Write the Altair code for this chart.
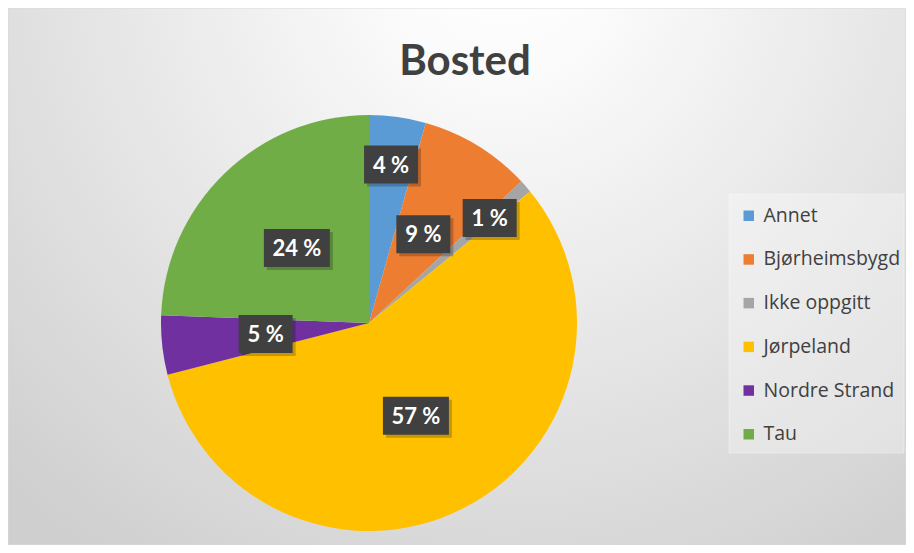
import altair as alt
import pandas as pd

# ---- data ----
CATEGORIES = ["Annet", "Bjørheimsbygd", "Ikke oppgitt", "Jørpeland", "Nordre Strand", "Tau"]
SHARES = [4.4, 8.7, 1.0, 56.9, 4.6, 24.4]
LABELS = ["4 %", "9 %", "1 %", "57 %", "5 %", "24 %"]
COLORS = ["#5B9BD5", "#ED7D31", "#A5A5A5", "#FFC000", "#7030A0", "#70AD47"]
TITLE = ["Bosted"]
OUTER_LABELS = ["Annet", "Ikke oppgitt"]

# ---- layout (pixels inside the chart) ----
W, H = 898, 537
CX, CY, R = 361, 315, 208

df = pd.DataFrame({
    "cat": CATEGORIES,
    "share": SHARES,
    "label": LABELS,
    "idx": list(range(len(CATEGORIES))),
})

xs = alt.Scale(domain=[0, W], nice=False, zero=False)
ys = alt.Scale(domain=[0, H], nice=False, zero=False, reverse=True)

one = pd.DataFrame({"t": TITLE})

bg = alt.Chart(one).mark_rect(
    color=alt.RadialGradient(
        gradient="radial",
        stops=[
            alt.GradientStop(color="#ffffff", offset=0),
            alt.GradientStop(color="#fbfbfb", offset=0.15),
            alt.GradientStop(color="#cfcfcf", offset=1),
        ],
        x1=0.55, y1=0.15, x2=0.55, y2=0.15, r1=0, r2=0.8,
    ),
    stroke="#d9d9d9", strokeWidth=1,
).encode(x=alt.value(0), x2=alt.value(W), y=alt.value(0), y2=alt.value(H))

legend_box = alt.Chart(one).mark_rect(
    fill="#ffffff", fillOpacity=0.3, stroke="#ffffff", strokeOpacity=0.35
).encode(x=alt.value(721), x2=alt.value(896), y=alt.value(186), y2=alt.value(445))

title = alt.Chart(one).mark_text(
    font="Lato", fontSize=42, fontWeight="bold", color="#404040",
    align="center", baseline="alphabetic",
).encode(x=alt.value(457), y=alt.value(67), text="t:N")

pie = alt.Chart(df).mark_arc(outerRadius=R).encode(
    theta=alt.Theta("share:Q", stack=True),
    color=alt.Color(
        "cat:N",
        scale=alt.Scale(domain=CATEGORIES, range=COLORS),
        sort=CATEGORIES,
        legend=alt.Legend(
            orient="none", legendX=731, legendY=198, title=None,
            symbolType="square", symbolSize=110, symbolStrokeWidth=0,
            labelFont="Open Sans", labelFontSize=19.5, labelColor="#404040",
            labelOffset=5, rowPadding=22.7, padding=0,
        ),
    ),
    order=alt.Order("idx:Q"),
    x=alt.value(CX), y=alt.value(CY),
)

lab_base = alt.Chart(df).transform_joinaggregate(
    total="sum(share)"
).transform_window(
    cum="sum(share)", sort=[alt.SortField("idx")], frame=[None, 0]
).transform_calculate(
    mid="(datum.cum - datum.share / 2) / datum.total * 2 * PI",
    r=f"indexof({OUTER_LABELS}, datum.cat) >= 0 ? 160 : 104",
    lx=f"{CX} + datum.r * sin(datum.mid)",
    ly=f"{CY} - datum.r * cos(datum.mid)",
    hw="length(datum.label) > 3 ? 33 : 27",
    bx0="datum.lx - datum.hw",
    bx1="datum.lx + datum.hw",
    by0="datum.ly - 19",
    by1="datum.ly + 19",
    sx0="datum.bx0 + 3",
    sx1="datum.bx1 + 3",
    sy0="datum.by0 + 3",
    sy1="datum.by1 + 3",
)

shadow = lab_base.mark_rect(color="#000000", opacity=0.22).encode(
    x=alt.X("sx0:Q", scale=xs, axis=None), x2="sx1:Q",
    y=alt.Y("sy0:Q", scale=ys, axis=None), y2="sy1:Q",
)
boxes = lab_base.mark_rect(color="#404040").encode(
    x=alt.X("bx0:Q", scale=xs, axis=None), x2="bx1:Q",
    y=alt.Y("by0:Q", scale=ys, axis=None), y2="by1:Q",
)
texts = lab_base.mark_text(
    font="Lato", fontSize=22, fontWeight="bold", color="#ffffff",
    align="center", baseline="middle", dy=1,
).encode(
    x=alt.X("lx:Q", scale=xs, axis=None),
    y=alt.Y("ly:Q", scale=ys, axis=None),
    text="label:N",
)

chart = alt.layer(bg, legend_box, title, pie, shadow, boxes, texts).properties(
    width=W, height=H, padding=0, autosize="none", background="#ffffff"
).configure_view(stroke=None)

chart.save("out.html", embed_options={"renderer": "svg", "actions": False})
